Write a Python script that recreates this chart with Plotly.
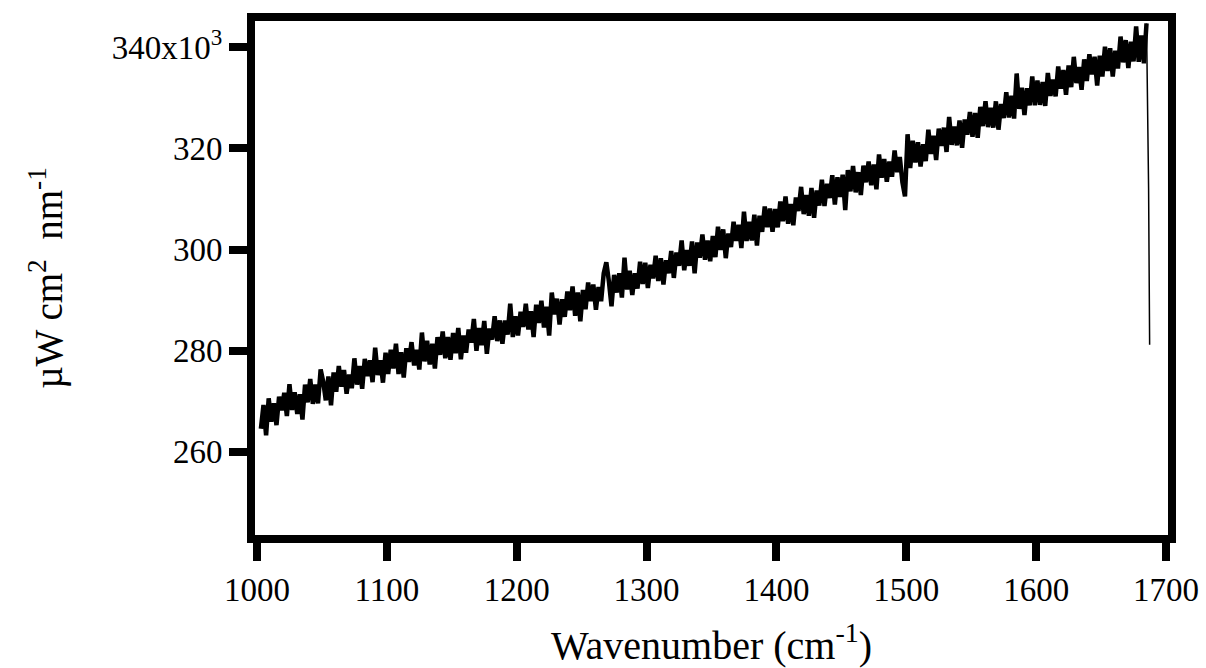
import plotly.graph_objects as go

# Wavenumber grid (cm^-1), one reading every 2 cm^-1
wavenumber = list(range(1003, 1687, 2))

# Irradiance readings (x10^3 µW cm^-2 nm^-1)
irr_1003_1049 = [264.6, 269.3, 263.3, 270.6, 266.0, 269.6, 265.3, 270.9, 268.2, 271.7, 267.1, 273.4,
                 268.3, 271.8, 267.5, 271.4, 266.4, 273.3, 269.8, 274.4, 269.5, 273.3, 269.6, 276.3]
irr_1051_1099 = [273.9, 270.2, 274.9, 269.2, 275.7, 271.9, 277.0, 272.9, 276.2, 271.5, 275.3, 272.6, 278.5,
                 273.3, 277.0, 272.5, 278.4, 275.0, 278.1, 273.8, 280.6, 275.2, 278.1, 273.7, 279.6]
irr_1101_1149 = [275.4, 280.2, 276.5, 281.4, 275.4, 279.7, 274.7, 280.5, 277.8, 281.7, 277.1, 280.2, 276.3,
                 283.6, 277.9, 282.0, 277.3, 281.4, 276.5, 282.7, 279.2, 283.8, 278.5, 282.7, 278.2]
irr_1151_1199 = [283.5, 279.5, 284.5, 278.3, 283.0, 279.6, 284.2, 281.6, 286.3, 280.0, 284.5, 281.1, 285.9,
                 279.4, 284.4, 282.2, 286.8, 281.9, 286.0, 281.4, 286.0, 283.2, 289.3, 282.7, 286.8]
irr_1201_1249 = [283.0, 287.7, 284.7, 289.3, 284.2, 287.8, 282.7, 289.1, 285.5, 289.9, 284.6, 288.7, 283.0,
                 291.5, 287.2, 290.3, 285.2, 290.2, 286.7, 291.7, 288.0, 292.7, 286.9, 291.5, 285.8]
irr_1251_1299 = [292.0, 288.2, 293.5, 289.8, 293.1, 288.1, 292.6, 289.8, 295.3, 297.5, 293.7, 288.8, 295.0,
                 291.5, 295.3, 290.5, 298.4, 292.1, 295.8, 291.0, 295.3, 292.3, 297.6, 293.2, 297.4]
irr_1301_1349 = [292.4, 297.0, 294.3, 298.8, 293.8, 298.3, 293.1, 297.9, 295.3, 299.7, 294.4, 299.4, 296.8,
                 301.8, 295.9, 299.9, 296.8, 301.6, 295.3, 301.4, 298.4, 303.0, 298.0, 301.8, 297.7]
irr_1351_1399 = [302.7, 298.5, 304.5, 299.9, 304.0, 298.3, 303.2, 300.5, 305.5, 301.7, 304.9, 300.3, 307.5,
                 301.7, 305.5, 301.8, 306.9, 300.8, 306.7, 303.5, 308.5, 304.4, 308.1, 303.5, 308.0]
irr_1401_1449 = [304.4, 309.5, 305.6, 310.5, 305.1, 309.0, 304.8, 310.3, 307.6, 312.4, 307.0, 310.8, 306.7,
                 312.2, 306.3, 311.7, 308.7, 313.8, 308.6, 313.0, 310.2, 314.7, 308.9, 314.3, 310.4]
irr_1451_1499 = [314.8, 307.8, 315.7, 311.5, 316.5, 311.3, 315.3, 310.8, 316.6, 313.3, 317.4, 312.7, 316.8,
                 311.9, 318.8, 314.2, 317.9, 313.4, 317.4, 314.4, 319.6, 315.3, 318.3, 313.3, 310.5]
irr_1501_1549 = [322.8, 316.1, 321.5, 317.2, 321.2, 316.4, 320.8, 317.5, 323.7, 318.9, 322.5, 317.7, 323.9,
                 320.5, 324.1, 319.3, 326.2, 320.7, 324.3, 320.6, 325.5, 320.1, 325.7, 322.7, 327.2]
irr_1551_1599 = [322.3, 327.0, 322.1, 328.2, 324.4, 329.3, 324.2, 328.0, 324.1, 329.3, 323.7, 328.8, 326.0,
                 331.1, 326.1, 330.4, 325.9, 334.8, 327.8, 332.0, 326.6, 331.9, 328.5, 334.2, 328.5]
irr_1601_1649 = [333.4, 328.6, 333.1, 328.4, 334.9, 330.4, 333.6, 330.3, 336.2, 331.8, 335.5, 330.6, 336.4,
                 332.1, 338.1, 332.9, 336.1, 331.6, 337.6, 333.3, 338.6, 334.6, 338.1, 332.4, 338.3]
irr_1651_1685 = [334.2, 340.1, 335.3, 339.8, 334.2, 339.3, 335.8, 342.1, 337.0, 341.4, 335.9, 341.1,
                 337.2, 344.1, 337.1, 342.3, 336.8, 344.7]

# Final drop at the end of the scan
tail_wavenumber = [1686.6, 1687.4]
tail_irr = [312.0, 281.2]

irradiance = (irr_1003_1049 + irr_1051_1099 + irr_1101_1149 + irr_1151_1199 + irr_1201_1249
              + irr_1251_1299 + irr_1301_1349 + irr_1351_1399 + irr_1401_1449 + irr_1451_1499
              + irr_1501_1549 + irr_1551_1599 + irr_1601_1649 + irr_1651_1685)

x_ticks = [1000, 1100, 1200, 1300, 1400, 1500, 1600, 1700]
y_ticks = [260, 280, 300, 320, 340]
y_ticktext = ["260", "280", "300", "320", "340x10<sup>3</sup>"]

FONT = "Liberation Serif, Times New Roman, serif"

fig = go.Figure()
fig.add_trace(go.Scatter(x=wavenumber, y=irradiance, mode="lines",
                         line=dict(color="black", width=4.5, simplify=False), showlegend=False))
fig.add_trace(go.Scatter(x=[wavenumber[-1]] + tail_wavenumber, y=[irradiance[-1]] + tail_irr,
                         mode="lines", line=dict(color="black", width=1.5, simplify=False),
                         showlegend=False))

fig.update_layout(
    width=1206, height=668,
    margin=dict(l=255, r=38, t=21, b=133, autoexpand=False),
    paper_bgcolor="white", plot_bgcolor="white",
    font=dict(family=FONT, color="black", size=33),
)
fig.update_xaxes(
    range=[998.46, 1701.54], tickvals=x_ticks, ticks="outside", ticklen=18, tickwidth=8,
    tickcolor="black", showline=True, linewidth=8, linecolor="black", mirror=True,
    showgrid=False, zeroline=False, tickfont=dict(family=FONT, size=33),
    title=dict(text="Wavenumber (cm<sup>-1</sup>)", font=dict(family=FONT, size=40), standoff=28),
    automargin=False,
)
fig.update_yaxes(
    range=[243.58, 345.18], tickvals=y_ticks, ticktext=y_ticktext, ticks="outside", ticklen=18,
    tickwidth=8, tickcolor="black", showline=True, linewidth=8, linecolor="black", mirror=True,
    showgrid=False, zeroline=False, tickfont=dict(family=FONT, size=33),
    title=dict(text="µW cm<sup>2</sup>  nm<sup>-1</sup>", font=dict(family=FONT, size=39), standoff=40),
    automargin=False,
)

fig.write_html("out.html")
